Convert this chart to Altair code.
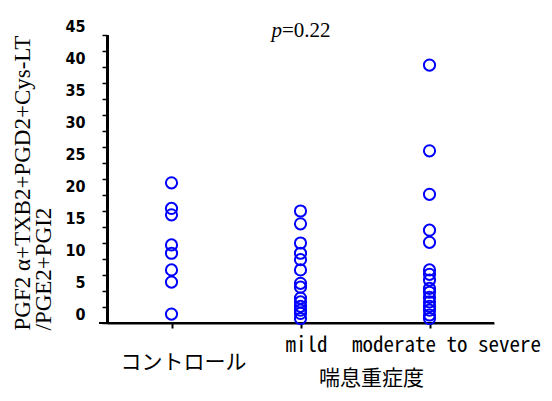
import altair as alt
import pandas as pd

categories = ["コントロール", "mild", "moderate to severe"]
control_vals = [21.9, 17.9, 16.9, 12.2, 10.9, 8.3, 6.4, 1.4]
mild_vals = [17.5, 15.5, 12.5, 10.9, 9.9, 8.3, 6.2, 5.6, 3.9, 3.3, 2.6, 2.0, 1.5, 0.7]
severe_vals = [40.3, 26.9, 20.1, 14.5, 12.6, 8.3, 7.6, 6.7, 5.4, 4.8, 4.0, 3.3, 2.6, 2.0, 1.25, 0.7]
y_ticks = [i * 2.5 for i in range(19)]
p_label = "=0.22"

rows = []
for cat, vals in zip(categories, [control_vals, mild_vals, severe_vals]):
    for v in vals:
        rows.append({"group": cat, "value": v})
df = pd.DataFrame(rows)

W, H = 387, 288

x_axis = alt.Axis(
    title="喘息重症度",
    titleFont="Noto Sans CJK JP",
    titleFontSize=21,
    titleFontWeight="normal",
    titleColor="black",
    titleX=264,
    titleY=55,
    titleAlign="center",
    titleBaseline="middle",
    domain=True,
    domainColor="black",
    domainWidth=2,
    ticks=True,
    tickColor="black",
    tickSize=5,
    tickWidth=2,
    labelAngle=0,
    labelColor="black",
    labelBaseline="middle",
    labelLimit=400,
    labelFont={"condition": {"test": "datum.value === 'コントロール'", "value": "Noto Sans CJK JP"},
               "value": "Noto Sans Mono CJK JP, DejaVu Sans Mono"},
    labelFontSize={"condition": {"test": "datum.value === 'コントロール'", "value": 21}, "value": 21},
    labelOffset={"condition": [{"test": "datum.value === 'コントロール'", "value": 11.5},
                               {"test": "datum.value === 'mild'", "value": 5.5}],
                 "value": 16.5},
    labelPadding={"condition": {"test": "datum.value === 'コントロール'", "value": 34}, "value": 17},
    grid=False,
)

y_axis = alt.Axis(
    title=["PGF2 α+TXB2+PGD2+Cys-LT", "/PGE2+PGI2"],
    titleFont="Liberation Serif",
    titleFontSize=23,
    titleFontWeight="normal",
    titleColor="black",
    titleAngle=270,
    titleAlign="left",
    titleBaseline="top",
    titleX=-96,
    titleY=295,
    titleLineHeight=21,
    values=y_ticks,
    labelExpr="datum.value % 5 === 0 ? datum.label : ''",
    format="d",
    labelFont="Liberation Sans Narrow, DejaVu Sans Condensed",
    labelFontSize=16,
    labelFontWeight="bold",
    labelColor="black",
    labelOffset=-9,
    labelPadding=17,
    domain=True,
    domainColor="black",
    domainWidth=3,
    tickColor="black",
    tickSize=5,
    tickWidth=1.5,
    grid=False,
)

points = alt.Chart(df).mark_point(
    shape="circle", filled=False, color="#0000FF", strokeWidth=2, size=125, opacity=1
).encode(
    x=alt.X("group:N", sort=categories, scale=alt.Scale(type="point", padding=0.5), axis=x_axis),
    y=alt.Y("value:Q", scale=alt.Scale(domain=[0, 45], nice=False, zero=True), axis=y_axis),
)

base_line = alt.Chart(pd.DataFrame({"v": [0]})).mark_rule(color="black", strokeWidth=2).encode(
    x=alt.value(-8), x2=alt.value(W), y=alt.value(H)
)

y_line = alt.Chart(pd.DataFrame({"v": [0]})).mark_rule(color="black", strokeWidth=2).encode(
    x=alt.value(1), x2=alt.value(1), y=alt.value(0), y2=alt.value(H)
)

p_italic = alt.Chart(pd.DataFrame({"t": ["p"]})).mark_text(
    font="Liberation Serif", fontSize=21, fontStyle="italic", align="right", baseline="middle", color="black"
).encode(text="t:N", x=alt.value(175), y=alt.value(-4))

p_rest = alt.Chart(pd.DataFrame({"t": [p_label]})).mark_text(
    font="Liberation Serif", fontSize=21, align="left", baseline="middle", color="black"
).encode(text="t:N", x=alt.value(175), y=alt.value(-4))

chart = alt.layer(base_line, y_line, points, p_italic, p_rest).properties(
    width=W, height=H,
    autosize=alt.AutoSizeParams(type="none"),
    padding={"left": 99, "top": 27, "right": 50, "bottom": 70},
    background="white",
).configure_view(stroke=None)

chart.save("out.html", embed_options={"renderer": "svg", "actions": False})
